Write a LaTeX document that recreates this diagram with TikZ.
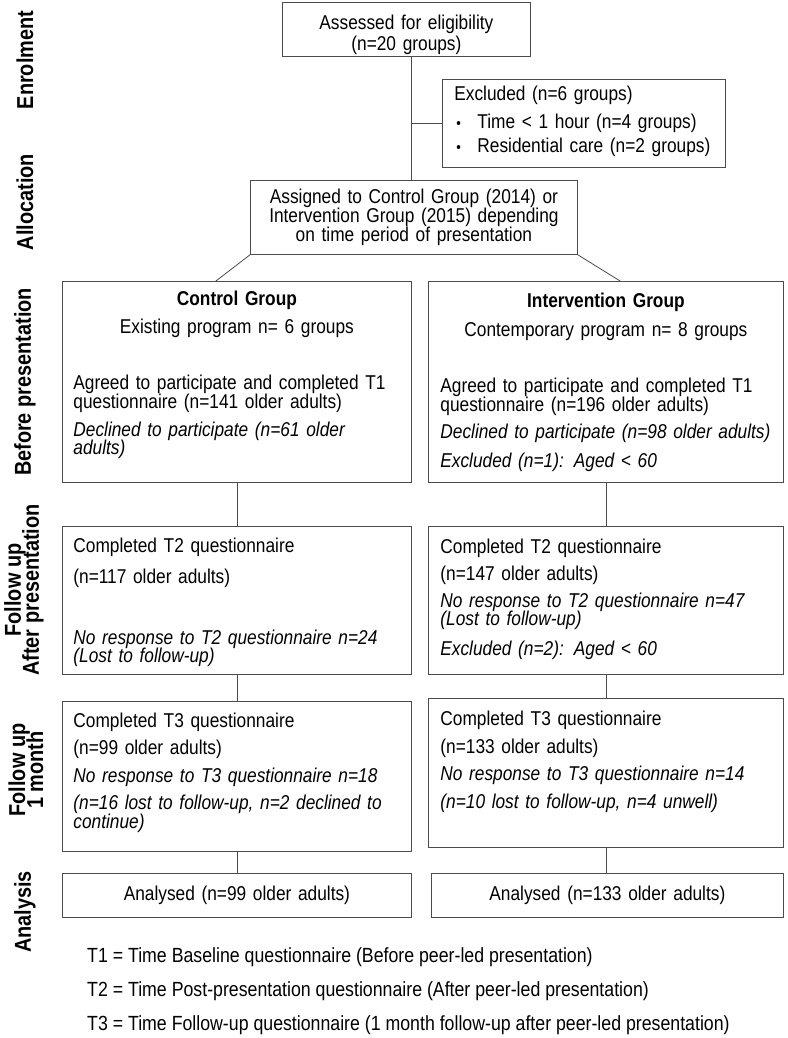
\documentclass[tikz,border=0pt]{standalone}
\usepackage{fontspec}
\setmainfont{Liberation Sans}[FakeStretch=0.865]
\usetikzlibrary{positioning}
\usetikzlibrary{calc}

\definecolor{boxgray}{gray}{0.3}

\newcommand{\bodyfont}{\fontsize{20}{19}\selectfont\lineskiplimit=-40pt\relax}
\newcommand{\notefont}{\fontsize{20.5}{19}\selectfont}
\newcommand{\stagefont}{\fontsize{23}{18}\selectfont\bfseries\lineskiplimit=-40pt\relax}
% small bullet in front of a list line
\newcommand{\bulletitem}{\hspace*{2pt}\makebox[21pt][l]{\fontsize{15}{15}\selectfont\textbullet}}
% one centred line inside a left aligned box
\newcommand{\midline}[1]{\makebox[\linewidth]{#1}}

\tikzset {
  flow box/.style = {
    draw = boxgray,
    line width = 0.8pt,
    anchor = north west,
    inner xsep = 11pt,
    inner ysep = 0pt,
    align = left,
    font = \bodyfont
  },
  % text width, height above the first baseline, depth below it
  box size/.style n args = {3}{
    text width = #1,
    text height = #2,
    text depth = #3
  },
  link/.style = {
    draw = boxgray,
    line width = 0.8pt
  },
  % rotated phase label on the left
  stage/.style = {
    rotate = 90,
    align = center,
    font = \stagefont
  },
  note/.style = {
    anchor = base west,
    inner sep = 0pt,
    font = \notefont
  }
}

\begin{document}
\begin{tikzpicture}[x=1pt, y=-1pt]
    \useasboundingbox (0,0) rectangle (787,1038);

    % phases
    \node[stage] (enrolment) at (25,60) {Enrolment};
    \node[stage] (allocation) at (25,202) {Allocation};
    \node[stage] (before) at (25,382) {Before presentation};
    \node[stage] (after) at (24,590) {Follow up\\After presentation};
    \node[stage] (month) at (26,770) {Follow up\\1 month};
    \node[stage] (analysis) at (25,912) {Analysis};

    % enrolment and allocation
    \node[flow box, align=center, box size={226pt}{27pt}{27pt}] (assessed) at (282,2)
    {Assessed for eligibility\\[2pt]
      (n=20 groups)};
    \node[flow box, inner xsep=12pt, box size={259pt}{21pt}{67pt}] (excluded) at (442,79)
    {Excluded (n=6 groups)\\[9pt]
      \bulletitem Time < 1 hour (n=4 groups)\\[5pt]
      \bulletitem Residential care (n=2 groups)};
    \node[flow box, align=center, box size={305pt}{23pt}{51pt}] (assigned) at (250,180)
    {Assigned to Control Group (2014) or\\
      Intervention Group (2015) depending\\
      on time period of presentation};

    % before presentation
    \node[flow box, box size={327pt}{24pt}{177pt}] (control) at (62,281)
    {\midline{\textbf{Control Group}}\\[9pt]
      \midline{Existing program n= 6 groups}\\[37pt]
      Agreed to participate and completed T1\\
      questionnaire (n=141 older adults)\\[9pt]
      \textit{Declined to participate (n=61 older}\\[-1pt]
      \textit{adults)}};
    \node[flow box, inner xsep=12pt, box size={331pt}{26pt}{175pt}] (intervention) at (428,281)
    {\midline{\textbf{Intervention Group}}\\[10pt]
      \midline{Contemporary program n= 8 groups}\\[37pt]
      Agreed to participate and completed T1\\
      questionnaire (n=196 older adults)\\[8pt]
      \mbox{\textit{Declined to participate (n=98 older adults)}}\\[10pt]
      \textit{Excluded (n=1): Aged < 60}};

    % after presentation
    \node[flow box, box size={327pt}{26pt}{122pt}] (control-t2) at (62,526)
    {Completed T2 questionnaire\\[12pt]
      (n=117 older adults)\\[42pt]
      \textit{No response to T2 questionnaire n=24}\\[-1pt]
      \textit{(Lost to follow-up)}};
    \node[flow box, inner xsep=12pt, box size={331pt}{27pt}{121pt}] (intervention-t2) at (428,526)
    {Completed T2 questionnaire\\[8pt]
      (n=147 older adults)\\[8pt]
      \textit{No response to T2 questionnaire n=47}\\[-1pt]
      \textit{(Lost to follow-up)}\\[11pt]
      \textit{Excluded (n=2): Aged < 60}};

    % one month
    \node[flow box, box size={327pt}{26pt}{124pt}] (control-t3) at (62,701)
    {Completed T3 questionnaire\\[8pt]
      (n=99 older adults)\\[9pt]
      \textit{No response to T3 questionnaire n=18}\\[8pt]
      \textit{(n=16 lost to follow-up, n=2 declined to}\\
      \textit{continue)}};
    \node[flow box, inner xsep=12pt, box size={331pt}{27pt}{122pt}] (intervention-t3) at (428,698)
    {Completed T3 questionnaire\\[9pt]
      (n=133 older adults)\\[8pt]
      \textit{No response to T3 questionnaire n=14}\\[9pt]
      \textit{(n=10 lost to follow-up, n=4 unwell)}};

    % analysis
    \node[flow box, align=center, box size={327pt}{27pt}{17pt}] (control-analysed) at (62,873)
    {Analysed (n=99 older adults)};
    \node[flow box, align=center, box size={330pt}{27pt}{17pt}] (intervention-analysed) at (431,873)
    {Analysed (n=133 older adults)};

    % key
    \node[note] (note-t1) at (87,962)
    {T1 = Time Baseline questionnaire (Before peer-led presentation)};
    \node[note] (note-t2) at (87,996)
    {T2 = Time Post-presentation questionnaire (After peer-led presentation)};
    \node[note] (note-t3) at (87,1030)
    {T3 = Time Follow-up questionnaire (1 month follow-up after peer-led presentation)};

    \coordinate (split) at (411,123);

    \draw[link] (assessed.south -| split)
    -- (assigned.north -| split);

    \draw[link] (split)
    -- (split -| excluded.west);

    \draw[link] (assigned.south west)
    -- ($(control.north west)!0.44!(control.north east)$);

    \draw[link] (assigned.south east)
    -- ($(intervention.north west)!0.54!(intervention.north east)$);

    \draw[link] (control) -- (control-t2);
    \draw[link] (control-t2) -- (control-t3);
    \draw[link] (control-t3) -- (control-analysed);

    \draw[link] (intervention) -- (intervention-t2);
    \draw[link] (intervention-t2) -- (intervention-t3);
    \draw[link] (intervention-t3.south)
    -- (intervention-t3.south |- intervention-analysed.north);
\end{tikzpicture}
\end{document}
